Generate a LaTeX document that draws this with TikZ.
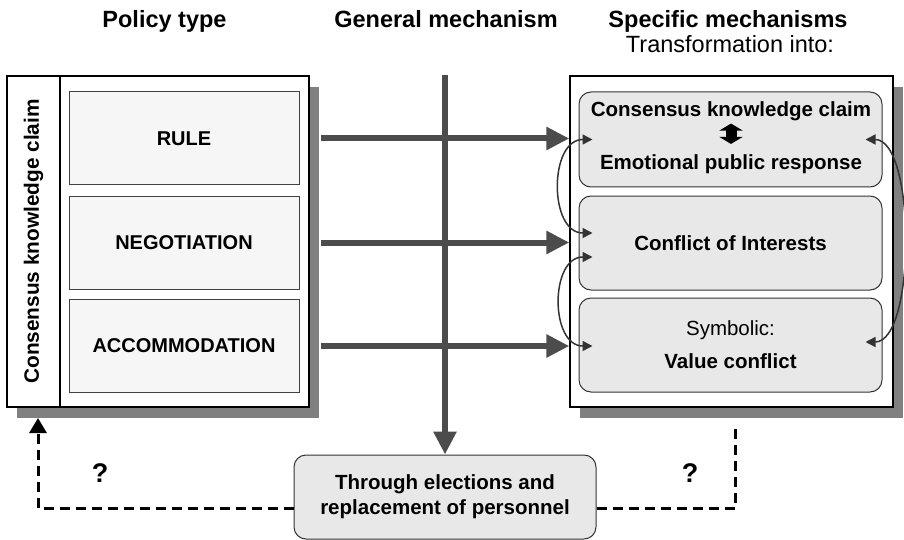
\documentclass[tikz,border=0pt]{standalone}
\usepackage{fontspec}
\setmainfont{Liberation Sans}
\usetikzlibrary{arrows.meta,shadows,calc}

\begin{document}
\begin{tikzpicture}[
        x=1pt, y=-1pt,
        colhead/.style = {font=\fontsize{23.5}{28}\selectfont\bfseries, anchor=base, inner sep=0},
        outer/.style = {draw=black, line width=1.4pt, fill=white, minimum width=302pt, minimum height=331pt,
          drop shadow={shadow xshift=10pt, shadow yshift=-11pt, fill=gray, opacity=1}},
        ptype/.style = {draw=black!75, line width=1pt, fill=gray!7, minimum width=230pt, minimum height=93pt,
          font=\fontsize{20}{24}\selectfont\bfseries},
        mech/.style = {draw=black!80, line width=1pt, fill=gray!18, rounded corners=12pt, minimum width=303pt,
          minimum height=94pt, align=center, font=\fontsize{20.5}{24}\selectfont},
        mtext/.style = {font=\fontsize{20.5}{24}\selectfont\bfseries, anchor=base, inner sep=0},
        flow/.style = {draw=black!70, line width=6pt, -{Triangle[length=23pt, width=22pt]}},
        linked/.style = {draw=black!80, line width=1.5pt,
          {Triangle[length=10pt, width=10pt]}-{Triangle[length=10pt, width=10pt]}},
        vote/.style = {line width=3pt, dash pattern=on 10pt off 6pt},
        ask/.style = {font=\fontsize{27}{30}\selectfont\bfseries},
      ]

      \useasboundingbox (0,0) rectangle (904,540);

      % column titles
      \node[colhead] (ptitle) at (164.5,28) {Policy type};
      \node[colhead] (gtitle) at (446,28) {General mechanism};
      \node[colhead] (stitle) at (728,28) {Specific mechanisms};
      \node[colhead, font=\fontsize{23.5}{28}\selectfont] (ttitle) at (730,53) {Transformation into:};

      % policy types
      \node[outer] (policy) at (158,241.5) {};
      \node[draw=black, line width=1.4pt, rotate=90, minimum width=331pt, minimum height=53pt,
        font=\fontsize{20.8}{24}\selectfont\bfseries] (strip) at (33.5,241.5) {Consensus knowledge claim};
      \node[ptype] (rule) at (184,138.5) {RULE};
      \node[ptype] (nego) at (184,242.5) {NEGOTIATION};
      \node[ptype] (accom) at (184,346) {ACCOMMODATION};

      % specific mechanisms
      \node[outer, minimum width=323pt] (spec) at (731.5,241.5) {};
      \node[mech, minimum height=95pt] (cons) at (730.5,139.5) {};
      \node[mtext] (ckc) at (731,117) {Consensus knowledge claim};
      \node[mtext] (epr) at (731,170) {Emotional public response};
      \node[mech, font=\fontsize{20.5}{24}\selectfont\bfseries] (conf) at (730.5,243) {Conflict of Interests};
      \node[mech] (symb) at (730.5,345) {Symbolic:\\[9pt]\textbf{Value conflict}};

      % general mechanism
      \node[mech, minimum width=302pt, minimum height=84pt,
        font=\fontsize{20.5}{25}\selectfont\bfseries] (elect) at (445,497) {Through elections and\\replacement of personnel};

      \draw[flow] ($(policy.east |- rule)+(11,0)$) -- (spec.west |- rule);
      \draw[flow] ($(policy.east |- nego)+(11,0)$) -- (spec.west |- nego);
      \draw[flow] ($(policy.east |- accom)+(11,0)$) -- (spec.west |- accom);
      \draw[flow] (elect |- policy.north) -- (elect);

      \draw[line width=11pt, shorten <=2pt, shorten >=11pt,
        {Triangle[length=7pt, width=23pt]}-{Triangle[length=7pt, width=23pt]}] (ckc) -- (epr);

      \draw[linked] ([xshift=14pt]cons.west) to[out=180, in=180, looseness=1.2] ([xshift=14pt, yshift=10pt]conf.west);
      \draw[linked] ([xshift=14pt, yshift=-14pt]conf.west) to[out=180, in=180, looseness=1.23] ([xshift=14pt, yshift=-1pt]symb.west);
      \draw[linked] ([xshift=-17pt]cons.east) to[out=0, in=0, looseness=0.64] ([xshift=-17pt, yshift=3pt]symb.east);

      % feedback
      \coordinate (lret) at (38,418);
      \coordinate (rret) at (735,423);
      \draw[vote, -{Triangle[length=15pt, width=17pt]}] ([yshift=-11pt]elect.west) -| (lret);
      \draw[vote] ([yshift=-11pt]elect.east) -| (rret);
      \node[ask] (lq) at (100,473) {?};
      \node[ask] (rq) at (690,473) {?};

    \end{tikzpicture}
\end{document}
